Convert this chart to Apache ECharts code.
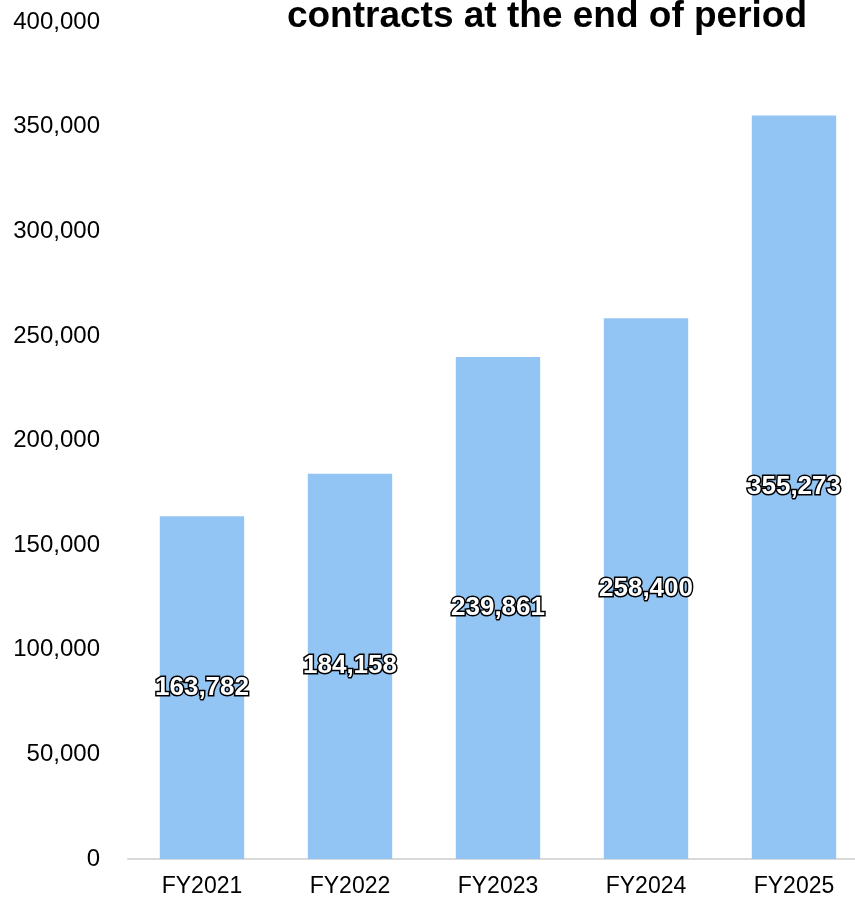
<!DOCTYPE html>
<html><head><meta charset="utf-8">
<script src="https://cdn.jsdelivr.net/npm/echarts@6/dist/echarts.min.js"></script>
<style>html,body{margin:0;padding:0;background:#fff;overflow:hidden}#c{width:868px;height:898px}</style>
</head><body><div id="c"></div>
<script>
const categories = ['FY2021','FY2022','FY2023','FY2024','FY2025'];
const contracts = [163782, 184158, 239861, 258400, 355273];
const yTicks = [0, 50000, 100000, 150000, 200000, 250000, 300000, 350000, 400000];
const titleText = 'contracts at the end of period';

const fmt = v => v.toLocaleString('en-US');
const chart = echarts.init(document.getElementById('c'));
chart.setOption({
  animation: false,
  backgroundColor: '#fff',
  title: {
    text: titleText, left: 542, top: -7, textAlign: 'center',
    textStyle: {fontFamily: 'Liberation Sans', fontWeight: 'bold', fontSize: 37, color: '#000'}
  },
  grid: {left: 128, right: 0, top: 22, bottom: 39, containLabel: false},
  xAxis: {
    type: 'category', data: categories,
    axisLine: {show: true, lineStyle: {color: '#d9d9d9', width: 2}},
    axisTick: {show: false},
    axisLabel: {fontFamily: 'Liberation Sans', fontSize: 23, color: '#000', margin: 16}
  },
  yAxis: {
    type: 'value', min: yTicks[0], max: yTicks[yTicks.length-1], interval: 50000,
    splitLine: {show: false},
    axisLine: {show: false}, axisTick: {show: false},
    axisLabel: {fontFamily: 'Liberation Sans', fontSize: 24, color: '#000', margin: 28, formatter: v => fmt(v)}
  },
  series: [{
    type: 'bar', data: contracts, barWidth: '57%',
    itemStyle: {color: '#93C5F4'},
    label: {
      show: true, position: 'inside', formatter: p => fmt(p.value),
      fontFamily: 'Liberation Sans', fontWeight: 'bold', fontSize: 26,
      color: '#fff', textBorderColor: '#000', textBorderWidth: 3
    }
  }]
});
</script></body></html>
